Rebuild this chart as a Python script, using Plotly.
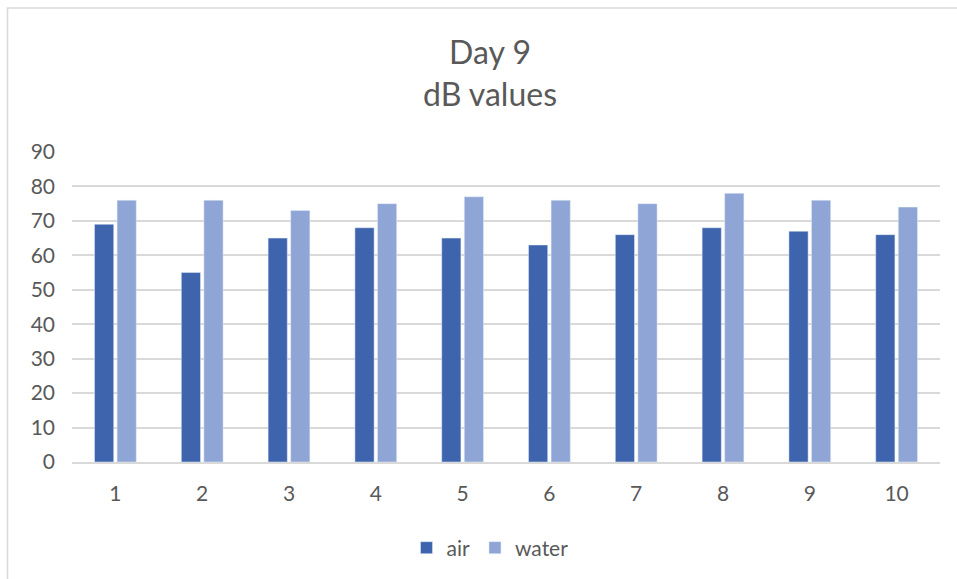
import plotly.graph_objects as go

categories = ["1", "2", "3", "4", "5", "6", "7", "8", "9", "10"]
air = [69, 55, 65, 68, 65, 63, 66, 68, 67, 66]
water = [76, 76, 73, 75, 77, 76, 75, 78, 76, 74]
y_ticks = [0, 10, 20, 30, 40, 50, 60, 70, 80, 90]

W, H = 957, 579
L, R, T, B = 72, 17, 152, 116
pw, ph = W - L - R, H - T - B

def px_x(x):
    return (x - L) / pw

def px_y(y):
    return (H - B - y) / ph

TXT = "#595959"
GRID = "#D9D9D9"
FONT = "Lato, Open Sans, sans-serif"

fig = go.Figure()
fig.add_trace(go.Bar(x=categories, y=air, name="air", marker_color="#3D64AD"))
fig.add_trace(go.Bar(x=categories, y=water, name="water", marker_color="#8FA5D5"))

fig.update_layout(
    width=W, height=H,
    margin=dict(l=L, r=R, t=T, b=B),
    paper_bgcolor="white", plot_bgcolor="white",
    barmode="group", bargap=0.48, bargroupgap=0.15,
    font=dict(family=FONT, color=TXT, size=21),
    title=dict(text="Day 9<br>dB values", x=490 / W, xanchor="center",
               y=1 - 64 / H, yanchor="middle", yref="container",
               font=dict(size=32, color=TXT, family=FONT)),
    legend=dict(orientation="h", x=px_x(490), xanchor="center",
                y=px_y(548), yanchor="middle", font=dict(size=21, color=TXT),
                itemwidth=30, tracegroupgap=0),
    showlegend=True,
)
fig.update_yaxes(range=[0, 90], tickvals=y_ticks, showgrid=True, gridcolor=GRID,
                 gridwidth=1.5, zeroline=False, showline=False,
                 ticks="", ticklabelstandoff=16, tickfont=dict(size=21, color=TXT))
fig.update_xaxes(showline=True, linecolor=GRID, linewidth=1.5, showgrid=False,
                 ticks="", ticklabelstandoff=12, tickfont=dict(size=21, color=TXT))

# chart border (top and left edges visible)
fig.add_shape(type="path", xref="paper", yref="paper",
              path=f"M {px_x(7.5)} {px_y(H + 10)} L {px_x(7.5)} {px_y(7.5)} L {px_x(W + 10)} {px_y(7.5)}",
              line=dict(color=GRID, width=1.5), layer="below")

fig.write_html("out.html", config={"displayModeBar": False},
               post_script="document.body.style.margin='0';document.body.style.overflow='hidden';")
